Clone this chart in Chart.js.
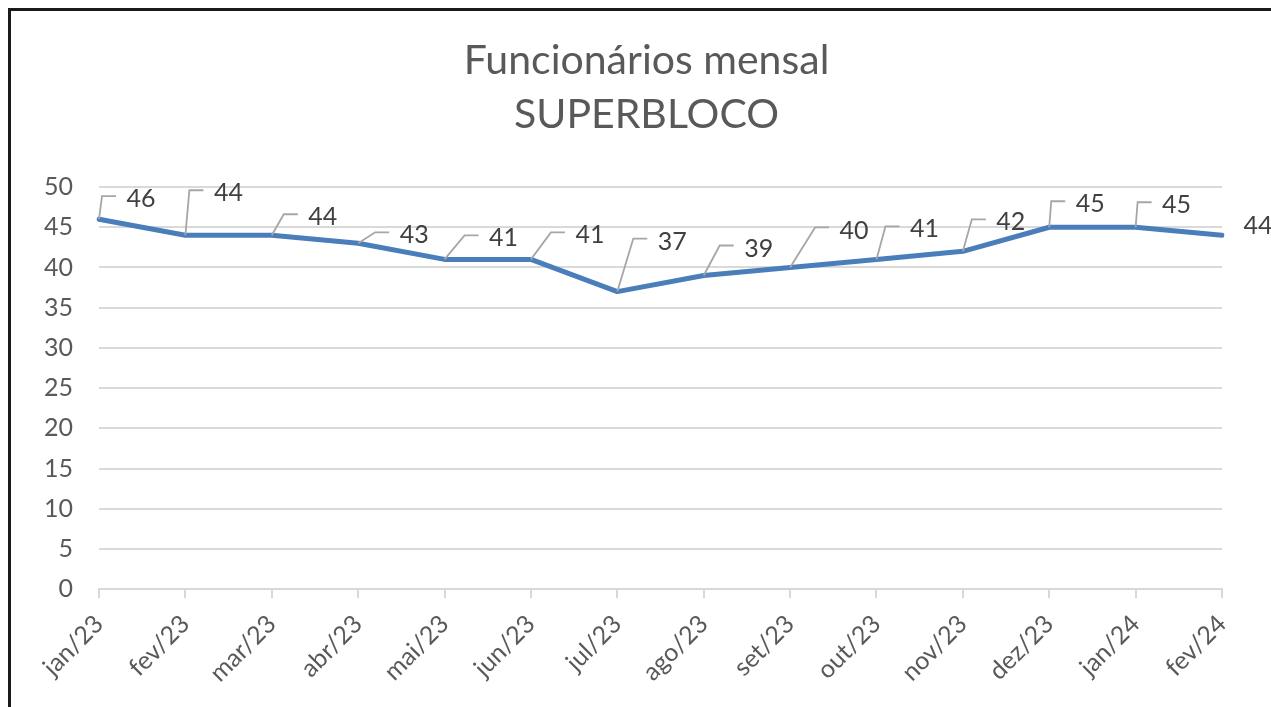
<!DOCTYPE html>
<html>
<head>
<meta charset="utf-8">
<script src="https://cdn.jsdelivr.net/npm/chart.js@4"></script>
<style>
  html, body { margin: 0; padding: 0; background: #fff; overflow: hidden; }
  #frame {
    position: absolute; left: 8px; top: 8px; width: 1400px; height: 800px;
    border-left: 3px solid #1a1a1a; border-top: 3px solid #1a1a1a;
  }
  #wrap { position: absolute; left: 0; top: 0; width: 1271px; height: 707px; }
</style>
</head>
<body>
<div id="frame"></div>
<div id="wrap"><canvas id="chart" width="1271" height="707"></canvas></div>
<script>
const months = ['jan/23', 'fev/23', 'mar/23', 'abr/23', 'mai/23', 'jun/23', 'jul/23',
  'ago/23', 'set/23', 'out/23', 'nov/23', 'dez/23', 'jan/24', 'fev/24'];
const funcionarios = [46, 44, 44, 43, 41, 41, 37, 39, 40, 41, 42, 45, 45, 44];
const titleLines = ['Funcionários mensal', 'SUPERBLOCO'];

// where each data label sits relative to its point, like the dragged Excel labels
const labelOffsets = [
  [42, -21, true], [43, -43, true], [51, -19, true], [56, -9, true], [59, -22, true],
  [59, -25, true], [55, -51, true], [55, -28, true], [64, -38, true], [48, -31, true],
  [48, -30, true], [41, -24, true], [41, -23, true], [36, -10, false]
];

const textGrey = '#595959';
const gridGrey = '#d9d9d9';

// Excel centres the title over the whole chart frame, which is a bit left of the plot centre
const chartTitle = {
  id: 'chartTitle',
  afterDraw(chart) {
    const ctx = chart.ctx;
    const cx = (chart.chartArea.left + chart.chartArea.right) / 2 - 14;
    ctx.save();
    ctx.font = '41px Lato';
    ctx.fillStyle = textGrey;
    ctx.textAlign = 'center';
    ctx.textBaseline = 'middle';
    titleLines.forEach((line, i) => ctx.fillText(line, cx, 61 + i * 54));
    ctx.restore();
  }
};

const leaderLabels = {
  id: 'leaderLabels',
  afterDatasetsDraw(chart) {
    const ctx = chart.ctx;
    const meta = chart.getDatasetMeta(0);
    ctx.save();
    ctx.font = '25px Lato';
    ctx.textAlign = 'center';
    ctx.textBaseline = 'middle';
    meta.data.forEach((pt, i) => {
      const [dx, dy, leader] = labelOffsets[i];
      const tx = pt.x + dx, ty = pt.y + dy;
      if (leader) {
        ctx.strokeStyle = '#a6a6a6';
        ctx.lineWidth = 1.8;
        ctx.beginPath();
        ctx.moveTo(pt.x, pt.y);
        ctx.lineTo(tx - 39, ty - 2);
        ctx.lineTo(tx - 25, ty - 2);
        ctx.stroke();
      }
      ctx.fillStyle = '#404040';
      ctx.fillText(String(chart.data.datasets[0].data[i]), tx, ty + 1);
    });
    ctx.restore();
  }
};

new Chart(document.getElementById('chart'), {
  type: 'line',
  data: {
    labels: months,
    datasets: [{
      data: funcionarios,
      borderColor: '#4a7ebb',
      borderWidth: 5,
      pointRadius: 0,
      tension: 0,
      borderJoinStyle: 'round',
      borderCapStyle: 'round'
    }]
  },
  options: {
    responsive: false,
    animation: false,
    layout: { padding: { left: 18, right: 49, top: 187, bottom: 8 } },
    plugins: {
      legend: { display: false },
      tooltip: { enabled: false },
      title: { display: false }
    },
    scales: {
      x: {
        offset: false,
        grid: { drawOnChartArea: false, drawTicks: true, tickLength: 9, color: gridGrey, lineWidth: 2 },
        border: { display: true, color: gridGrey, width: 2 },
        ticks: {
          color: textGrey,
          font: { family: 'Lato', size: 25 },
          minRotation: 45, maxRotation: 45,
          padding: 11,
          autoSkip: false
        }
      },
      y: {
        min: 0, max: 50,
        grid: { drawTicks: false, color: gridGrey, lineWidth: 2 },
        border: { display: false },
        ticks: {
          stepSize: 5,
          color: textGrey,
          font: { family: 'Lato', size: 25 },
          padding: 26
        }
      }
    }
  },
  plugins: [leaderLabels, chartTitle]
});
</script>
</body>
</html>
